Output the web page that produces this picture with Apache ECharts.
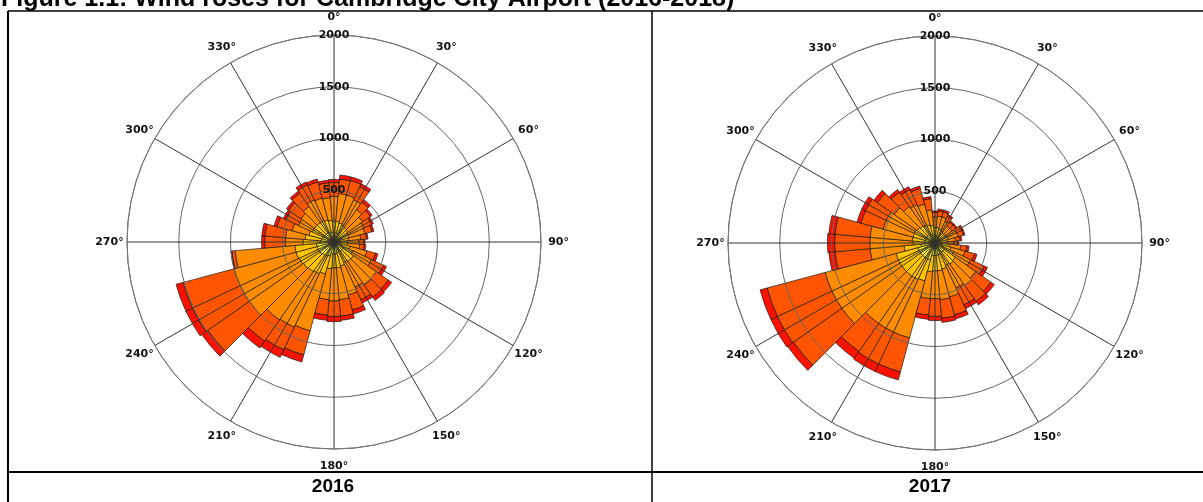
<!DOCTYPE html>
<html>
<head>
<meta charset="utf-8">
<script src="https://cdn.jsdelivr.net/npm/echarts@6/dist/echarts.min.js"></script>
<style>
html, body {margin: 0; padding: 0; background: #fff;}
#main {width: 1203px; height: 502px;}
</style>
</head>
<body>
<div id="main"></div>
<script>
// directions of the sectors, 10 degrees each
var aDirections = ['0', '10', '20', '30', '40', '50', '60', '70', '80', '90', '100', '110',
    '120', '130', '140', '150', '160', '170', '180', '190', '200', '210', '220', '230',
    '240', '250', '260', '270', '280', '290', '300', '310', '320', '330', '340', '350'];
// compass labels round the rim
var aAngleTicks = [0, 30, 60, 90, 120, 150, 180, 210, 240, 270, 300, 330];
// wind speed classes (m/s), from the centre outward
var aClassNames = ['0.5 - 2.1', '2.1 - 3.6', '3.6 - 5.7', '5.7 - 8.8', '8.8 - 11.1', '>= 11.1'];
var aClassColors = ['#d7f53c', '#ffee22', '#ffc400', '#ff8c00', '#ff5500', '#ff1100'];
var aYears = ['2016', '2017'];

// 2016, hours per sector for each class
var a2016_c1 = [30, 30, 30, 25, 25, 25, 25, 25, 20, 20, 20, 25, 30, 35, 35, 35, 35, 40, 40, 40, 45, 50, 50, 55, 55, 55, 55, 45, 40, 40, 35, 35, 35, 35, 35, 30];
var a2016_c2 = [60, 60, 55, 55, 50, 50, 45, 45, 40, 40, 40, 50, 60, 70, 70, 65, 70, 75, 75, 80, 95, 100, 105, 110, 110, 115, 115, 90, 85, 75, 70, 70, 70, 70, 65, 65];
var a2016_c3 = [110, 110, 105, 100, 95, 85, 80, 80, 80, 70, 70, 85, 110, 125, 125, 120, 135, 135, 135, 140, 180, 190, 195, 195, 205, 210, 210, 165, 155, 135, 125, 125, 125, 125, 120, 115];
var a2016_c4 = [240, 270, 280, 270, 210, 180, 170, 160, 120, 110, 120, 170, 200, 270, 280, 260, 290, 310, 320, 300, 570, 570, 570, 640, 630, 620, 580, 170, 190, 170, 150, 160, 190, 220, 220, 220];
var a2016_c5 = [135, 140, 145, 140, 90, 90, 80, 70, 55, 50, 45, 85, 130, 140, 140, 135, 150, 160, 150, 150, 240, 240, 250, 490, 510, 510, 30, 200, 200, 150, 135, 145, 155, 160, 160, 145];
var a2016_c6 = [30, 40, 35, 30, 30, 20, 20, 20, 15, 10, 15, 25, 30, 40, 40, 35, 40, 40, 50, 50, 70, 80, 80, 70, 70, 70, 10, 30, 30, 30, 25, 25, 25, 30, 30, 25];

// 2017
var a2017_c1 = [25, 25, 25, 20, 20, 20, 20, 20, 20, 20, 25, 25, 30, 35, 35, 35, 40, 40, 40, 40, 55, 55, 55, 55, 55, 55, 45, 35, 35, 35, 35, 30, 30, 30, 30, 25];
var a2017_c2 = [45, 45, 40, 40, 35, 35, 40, 40, 35, 35, 40, 50, 60, 70, 75, 70, 80, 80, 80, 85, 115, 115, 115, 115, 115, 115, 90, 65, 65, 65, 65, 65, 60, 55, 55, 50];
var a2017_c3 = [80, 80, 75, 70, 65, 65, 70, 70, 65, 55, 75, 85, 110, 135, 140, 135, 140, 150, 150, 155, 210, 220, 220, 220, 220, 220, 165, 110, 120, 120, 120, 115, 110, 105, 95, 95];
var a2017_c4 = [100, 110, 120, 100, 80, 80, 100, 100, 80, 70, 110, 140, 180, 240, 250, 240, 280, 280, 270, 260, 570, 560, 560, 710, 710, 710, 330, 420, 410, 300, 300, 270, 230, 220, 210, 150];
var a2017_c5 = [45, 50, 50, 55, 45, 45, 55, 55, 45, 40, 60, 95, 145, 180, 190, 180, 180, 180, 170, 160, 340, 340, 330, 570, 580, 580, 340, 340, 340, 220, 220, 200, 170, 160, 155, 110];
var a2017_c6 = [15, 20, 20, 15, 15, 15, 15, 15, 15, 10, 20, 25, 35, 40, 40, 40, 40, 40, 40, 40, 80, 80, 80, 70, 70, 70, 60, 70, 60, 40, 40, 40, 30, 30, 25, 20];

var iRingMax = 2000;
var iRingStep = 500;
var iLabelRadius = 2170;   // compass labels sit just outside the 2000 ring

var jData = {
    '2016': [a2016_c1, a2016_c2, a2016_c3, a2016_c4, a2016_c5, a2016_c6],
    '2017': [a2017_c1, a2017_c2, a2017_c3, a2017_c4, a2017_c5, a2017_c6]
};

var aCenters = [[334, 242], [935, 243]];
var iRadius = 207;
var sLabelFont = 'DejaVu Sans';

function GetPolars() {
    var aPolar = [];
    for (var i = 0; i < aCenters.length; i++) {
        // one polar for the grid (drawn on top), one for the bars
        aPolar.push({center: aCenters[i], radius: iRadius});
        aPolar.push({center: aCenters[i], radius: iRadius});
    }
    return aPolar;
}

function GetAngleAxes() {
    var aAxes = [];
    for (var i = 0; i < aCenters.length; i++) {
        aAxes.push({
            polarIndex: i * 2,
            type: 'value',
            min: 0,
            max: 360,
            interval: 30,
            startAngle: 90,
            clockwise: true,
            z: 10,
            axisLine: {show: true, lineStyle: {color: '#777', width: 1}},
            axisTick: {show: false},
            axisLabel: {show: false},   // drawn by the label series, centred
            splitLine: {show: true, lineStyle: {color: '#333', width: 1}}
        });
        // the bars: category axis turned by half a sector so each bar is centred on its direction
        aAxes.push({
            polarIndex: i * 2 + 1,
            type: 'category',
            data: aDirections,
            startAngle: 95,
            clockwise: true,
            boundaryGap: true,
            axisLine: {show: false},
            axisTick: {show: false},
            axisLabel: {show: false},
            splitLine: {show: false}
        });
    }
    return aAxes;
}

function GetRadiusAxes() {
    var aAxes = [];
    for (var i = 0; i < aCenters.length; i++) {
        aAxes.push({
            polarIndex: i * 2,
            type: 'value',
            min: 0,
            max: iRingMax,
            interval: iRingStep,
            z: 10,
            axisLine: {show: false},
            axisTick: {show: false},
            axisLabel: {
                show: true,
                margin: 0,
                align: 'center',
                verticalAlign: 'middle',
                color: '#111',
                fontFamily: sLabelFont,
                fontWeight: 'bold',
                fontSize: 11,
                formatter: function (v) {
                    return v === 0 ? '' : String(v);
                }
            },
            splitLine: {show: true, lineStyle: {color: '#666', width: 1}}
        });
        aAxes.push({
            polarIndex: i * 2 + 1,
            type: 'value',
            min: 0,
            max: iRingMax,
            axisLine: {show: false},
            axisTick: {show: false},
            axisLabel: {show: false},
            splitLine: {show: false}
        });
    }
    return aAxes;
}

function GetSeries() {
    var aSeries = [];
    for (var y = 0; y < aYears.length; y++) {
        var sYear = aYears[y];
        for (var c = 0; c < aClassNames.length; c++) {
            aSeries.push({
                name: aClassNames[c],
                type: 'bar',
                coordinateSystem: 'polar',
                polarIndex: y * 2 + 1,
                stack: 'rose' + sYear,
                barCategoryGap: '0%',
                z: 2,
                data: jData[sYear][c],
                itemStyle: {color: aClassColors[c], borderColor: '#1a1a1a', borderWidth: 0.7}
            });
        }
        // compass labels, centred on their direction
        var aLabelPoints = [];
        for (var k = 0; k < aAngleTicks.length; k++) {
            aLabelPoints.push([iLabelRadius, aAngleTicks[k]]);
        }
        aSeries.push({
            type: 'scatter',
            coordinateSystem: 'polar',
            polarIndex: y * 2,
            clip: false,
            symbol: 'circle',
            symbolSize: 1,
            itemStyle: {color: 'rgba(0,0,0,0)'},
            z: 12,
            silent: true,
            data: aLabelPoints,
            label: {
                show: true,
                position: 'inside',
                color: '#111',
                textBorderWidth: 0,
                opacity: 1,
                fontFamily: sLabelFont,
                fontWeight: 'bold',
                fontSize: 11,
                formatter: function (p) {
                    return p.value[1] + '°';
                }
            }
        });
    }
    return aSeries;
}

function GetGraphic() {
    var sLine = '#000';
    return [
        {type: 'text', left: 1, top: -13, z: 20,
            style: {text: 'Figure 1.1: Wind roses for Cambridge City Airport (2016-2018)',
                font: 'bold 25px "Liberation Sans"', fill: '#000'}},
        // table borders
        {type: 'line', z: 20, shape: {x1: 8, y1: 11, x2: 1203, y2: 11}, style: {stroke: sLine, lineWidth: 1.5}},
        {type: 'line', z: 20, shape: {x1: 8, y1: 11, x2: 8, y2: 502}, style: {stroke: sLine, lineWidth: 2}},
        {type: 'line', z: 20, shape: {x1: 652, y1: 11, x2: 652, y2: 502}, style: {stroke: sLine, lineWidth: 1.5}},
        {type: 'line', z: 20, shape: {x1: 8, y1: 472, x2: 1203, y2: 472}, style: {stroke: sLine, lineWidth: 2}},
        // year captions
        {type: 'text', z: 20, x: 333, y: 487,
            style: {text: aYears[0], font: 'bold 19px "Liberation Sans"', fill: '#000', align: 'center', verticalAlign: 'middle'}},
        {type: 'text', z: 20, x: 930, y: 487,
            style: {text: aYears[1], font: 'bold 19px "Liberation Sans"', fill: '#000', align: 'center', verticalAlign: 'middle'}}
    ];
}

var myChart = echarts.init(document.getElementById('main'));
myChart.setOption({
    animation: false,
    backgroundColor: '#fff',
    polar: GetPolars(),
    angleAxis: GetAngleAxes(),
    radiusAxis: GetRadiusAxes(),
    series: GetSeries(),
    graphic: GetGraphic()
});
</script>
</body>
</html>
